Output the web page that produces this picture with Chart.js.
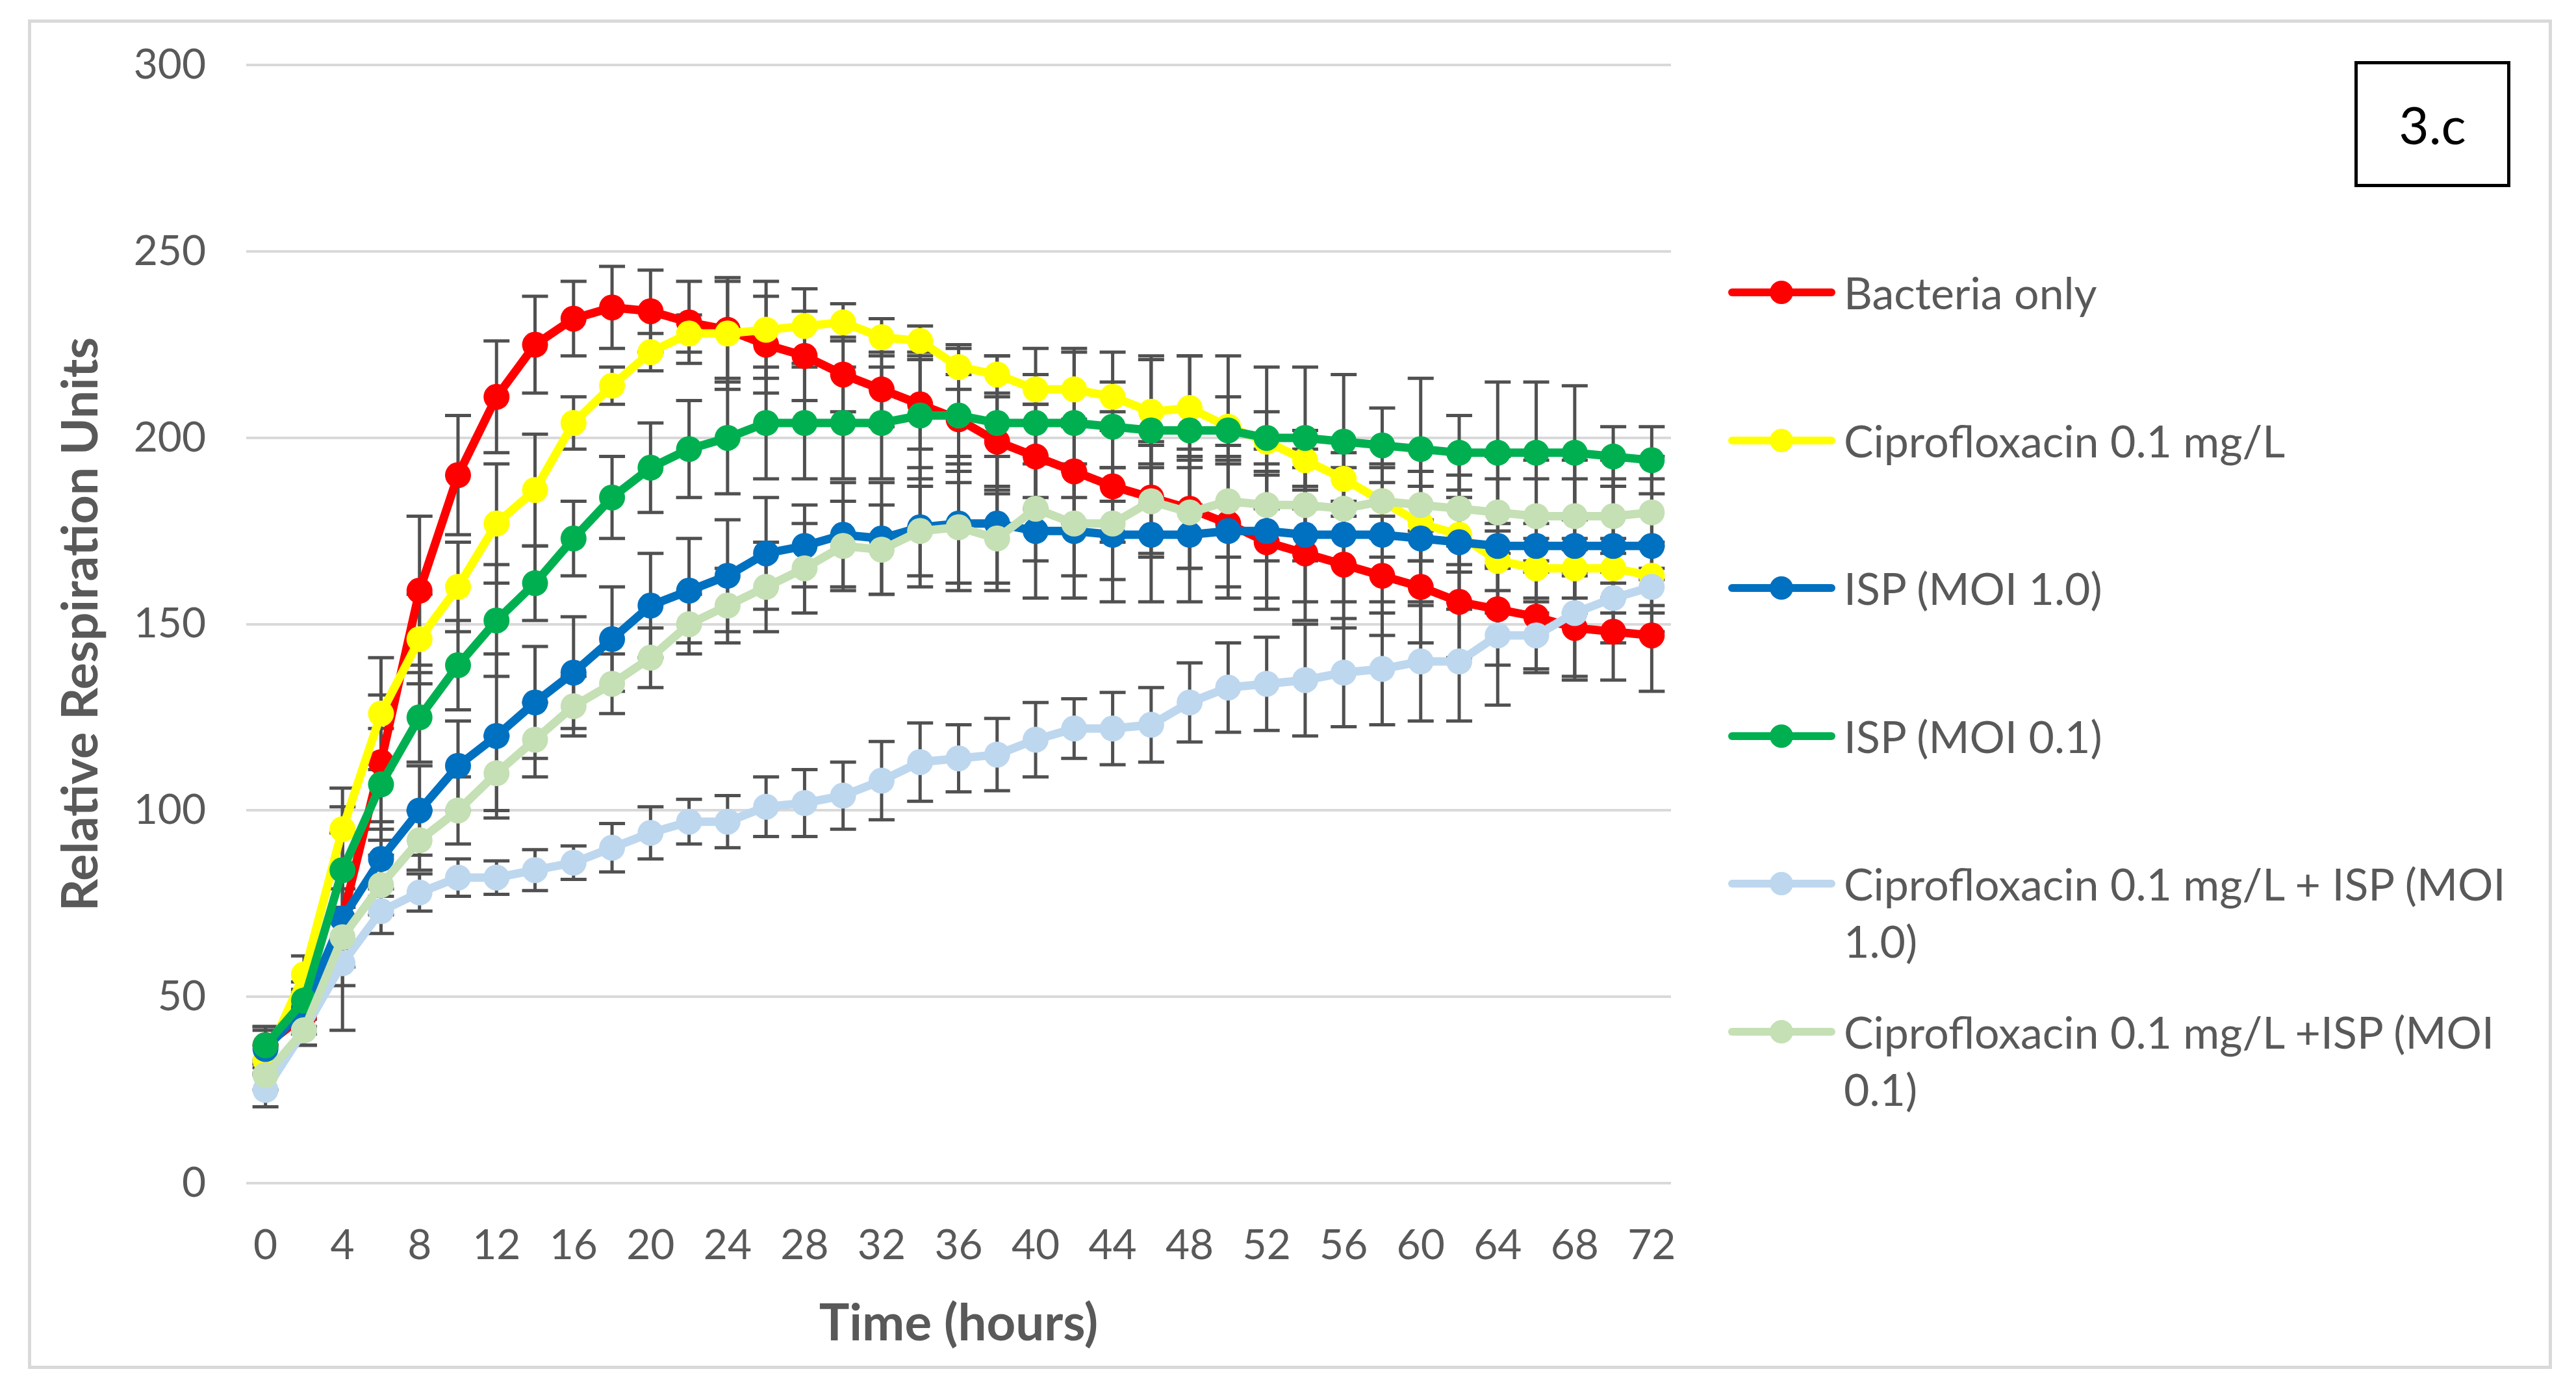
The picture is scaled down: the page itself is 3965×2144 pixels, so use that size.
<!DOCTYPE html>
<html>
<head>
<meta charset="utf-8">
<script src="https://cdn.jsdelivr.net/npm/chart.js@4.4.1/dist/chart.umd.min.js"></script>
<style>
    html, body { margin: 0; padding: 0; background: #fff; }
    body { width: 3965px; height: 2144px; position: relative; overflow: hidden; font-family: 'Lato', sans-serif; }
    #frame { position: absolute; left: 43px; top: 30px; width: 3885px; height: 2077px; border: 5px solid #d9d9d9; box-sizing: border-box; }
    #chart-wrap { position: absolute; left: 0; top: 0; width: 3965px; height: 2144px; }
    #panel-tag { position: absolute; left: 3624px; top: 94px; width: 240px; height: 194px; border: 5px solid #000; box-sizing: border-box;
        display: flex; align-items: center; justify-content: center; font-size: 80px; color: #000; }
    #legend { position: absolute; left: 2660px; top: 406px; width: 1260px; }
    .leg-item { position: relative; height: 227.6px; }
    .leg-line { position: absolute; left: 0; top: 38px; width: 165px; height: 12px; border-radius: 6px; }
    .leg-dot { position: absolute; left: 64px; top: 26px; width: 36px; height: 36px; border-radius: 50%; }
    .leg-text { position: absolute; left: 178px; top: 0; width: 1080px; font-size: 68px; line-height: 88px; color: #595959; }
</style>
</head>
<body>
<div id="frame"></div>
<div id="chart-wrap"><canvas id="chart-resp"></canvas></div>
<div id="panel-tag">3.c</div>
<div id="legend"></div>

<script>
// time points, every 2 hours
const hours = ['0','2','4','6','8','10','12','14','16','18','20','22','24','26','28','30','32','34','36',
    '38','40','42','44','46','48','50','52','54','56','58','60','62','64','66','68','70','72'];

const seriesNames = [
    'Bacteria only',
    'Ciprofloxacin 0.1 mg/L',
    'ISP (MOI 1.0)',
    'ISP (MOI 0.1)',
    'Ciprofloxacin 0.1 mg/L + ISP (MOI 1.0)',
    'Ciprofloxacin  0.1 mg/L +ISP (MOI 0.1)'
];
const seriesColors = ['#ff0000', '#ffff00', '#0070c0', '#00b050', '#bdd7ee', '#c5e0b4'];

const bacteriaOnly = [37, 45, 71, 113, 159, 190, 211, 225, 232, 235, 234, 231, 229, 225, 222, 217, 213, 209, 205,
    199, 195, 191, 187, 184, 181, 177, 172, 169, 166, 163, 160, 156, 154, 152, 149, 148, 147];
const cipro = [33, 56, 95, 126, 146, 160, 177, 186, 204, 214, 223, 228, 228, 229, 230, 231, 227, 226, 219,
    217, 213, 213, 211, 207, 208, 203, 199, 194, 189, 183, 177, 174, 167, 165, 165, 165, 163];
const ispMoi10 = [36, 47, 71, 87, 100, 112, 120, 129, 137, 146, 155, 159, 163, 169, 171, 174, 173, 176, 177,
    177, 175, 175, 174, 174, 174, 175, 175, 174, 174, 174, 173, 172, 171, 171, 171, 171, 171];
const ispMoi01 = [37, 49, 84, 107, 125, 139, 151, 161, 173, 184, 192, 197, 200, 204, 204, 204, 204, 206, 206,
    204, 204, 204, 203, 202, 202, 202, 200, 200, 199, 198, 197, 196, 196, 196, 196, 195, 194];
const ciproIspMoi10 = [25, 41, 59, 73, 78, 82, 82, 84, 86, 90, 94, 97, 97, 101, 102, 104, 108, 113, 114,
    115, 119, 122, 122, 123, 129, 133, 134, 135, 137, 138, 140, 140, 147, 147, 153, 157, 160];
const ciproIspMoi01 = [29, 41, 66, 80, 92, 100, 110, 119, 128, 134, 141, 150, 155, 160, 165, 171, 170, 175, 176,
    173, 181, 177, 177, 183, 180, 183, 182, 182, 181, 183, 182, 181, 180, 179, 179, 179, 180];

// error bar half-widths (same units)
const errBacteria = [5, 5, 8, 18, 20, 16, 15, 13, 10, 11, 11, 11, 13, 13, 12, 10, 10, 12, 12,
    12, 14, 14, 15, 15, 16, 17, 18, 18, 17, 16, 15, 15, 15, 15, 14, 13, 15];
const errCipro = [4, 5, 11, 15, 12, 12, 16, 15, 7, 5, 5, 5, 15, 13, 10, 5, 5, 4, 6,
    5, 4, 10, 4, 14, 14, 8, 8, 8, 10, 10, 10, 10, 8, 8, 8, 8, 8];
const errIspMoi10 = [5, 5, 30, 10, 12, 12, 22, 15, 15, 14, 14, 14, 15, 15, 11, 14, 15, 16, 18,
    18, 18, 18, 18, 18, 18, 18, 18, 18, 18, 18, 18, 18, 18, 18, 18, 18, 18];
const errIspMoi01 = [5, 5, 10, 15, 12, 12, 15, 10, 10, 11, 12, 13, 15, 15, 15, 15, 15, 17, 18,
    18, 20, 20, 20, 20, 20, 20, 19, 19, 18, 10, 19, 10, 19, 19, 18, 8, 9];
const errCiproIspMoi10 = [4.5, 4, 6, 6, 5, 5, 4.5, 5.5, 4.5, 6.5, 7, 6, 7, 8, 9, 9, 10.5, 10.5, 9,
    9.7, 10, 8, 9.7, 10, 10.6, 12, 12.5, 15, 14.5, 15, 16, 16, 18.7, 9, 17, 12, 12];
const errCiproIspMoi01 = [4, 4, 8, 8, 8, 9, 10, 10, 8, 8, 8, 8, 10, 12, 12, 12, 12, 12, 15,
    12, 14, 14, 15, 15, 15, 15, 15, 15, 15, 15, 15, 15, 15, 15, 15, 15, 15];

const seriesValues = [bacteriaOnly, cipro, ispMoi10, ispMoi01, ciproIspMoi10, ciproIspMoi01];
const seriesErrors = [errBacteria, errCipro, errIspMoi10, errIspMoi01, errCiproIspMoi10, errCiproIspMoi01];

const yTicks = { min: 0, max: 300, step: 50 };

const FONT = "'Lato', sans-serif";
const TEXT_GREY = '#595959';

// draws vertical error bars with caps, under the lines and markers
const errorBarPlugin = {
    id: 'errorBars',
    beforeDatasetsDraw(chart) {
        const ctx = chart.ctx;
        const yScale = chart.scales.y;
        ctx.save();
        ctx.strokeStyle = '#505050';
        ctx.lineWidth = 5;
        const cap = 20;
        chart.data.datasets.forEach((ds, i) => {
            const meta = chart.getDatasetMeta(i);
            const errs = seriesErrors[i];
            meta.data.forEach((pt, j) => {
                const v = ds.data[j];
                const e = errs[j] || 0;
                const x = pt.x;
                const yTop = yScale.getPixelForValue(v + e);
                const yBot = yScale.getPixelForValue(v - e);
                ctx.beginPath();
                ctx.moveTo(x, yTop);
                ctx.lineTo(x, yBot);
                ctx.moveTo(x - cap, yTop);
                ctx.lineTo(x + cap, yTop);
                ctx.moveTo(x - cap, yBot);
                ctx.lineTo(x + cap, yBot);
                ctx.stroke();
            });
        });
        ctx.restore();
    }
};

const datasets = seriesNames.map((name, i) => ({
    label: name,
    data: seriesValues[i],
    borderColor: seriesColors[i],
    backgroundColor: seriesColors[i],
    pointBackgroundColor: seriesColors[i],
    pointBorderWidth: 0,
    pointRadius: 20,
    borderWidth: 13,
    tension: 0,
    order: seriesNames.length - i   // later series drawn on top, as in the original
}));

const respChart = new Chart(document.getElementById('chart-resp'), {
    type: 'line',
    data: { labels: hours, datasets: datasets },
    plugins: [errorBarPlugin],
    options: {
        responsive: true,
        maintainAspectRatio: false,
        animation: false,
        devicePixelRatio: 1,
        layout: { padding: { left: 60, top: 94, right: 1393, bottom: 50 } },
        plugins: {
            legend: { display: false },
            tooltip: { enabled: false }
        },
        scales: {
            x: {
                type: 'category',
                offset: true,
                grid: { display: false, drawTicks: false },
                border: { display: false },
                ticks: {
                    autoSkip: false,
                    maxRotation: 0,
                    padding: 58,
                    color: TEXT_GREY,
                    font: { family: FONT, size: 64 },
                    callback: function (val, idx) {
                        return idx % 2 === 0 ? this.getLabelForValue(val) : '';
                    }
                },
                title: {
                    display: true,
                    text: 'Time (hours)',
                    color: TEXT_GREY,
                    font: { family: FONT, size: 78, weight: 'bold' },
                    padding: { top: 0, bottom: 9 }
                },
                afterFit: (scale) => { scale.height = 273; }
            },
            y: {
                min: yTicks.min,
                max: yTicks.max,
                grid: { color: '#d9d9d9', lineWidth: 4, drawTicks: false },
                border: { display: false },
                ticks: {
                    stepSize: yTicks.step,
                    padding: 62,
                    color: TEXT_GREY,
                    font: { family: FONT, size: 64 }
                },
                title: {
                    display: true,
                    text: 'Relative Respiration Units',
                    color: TEXT_GREY,
                    font: { family: FONT, size: 77, weight: 'bold' },
                    padding: { top: 19, bottom: 0 }
                },
                afterFit: (scale) => { scale.width = 319; }
            }
        }
    }
});

// legend built from the datasets, so long labels can wrap like the original
const legendEl = document.getElementById('legend');
respChart.data.datasets.forEach(ds => {
    const item = document.createElement('div');
    item.className = 'leg-item';
    item.innerHTML = `
        <div class="leg-line" style="background:${ds.borderColor}"></div>
        <div class="leg-dot" style="background:${ds.borderColor}"></div>
        <div class="leg-text"></div>`;
    item.querySelector('.leg-text').textContent = ds.label;
    legendEl.appendChild(item);
});
</script>
</body>
</html>
